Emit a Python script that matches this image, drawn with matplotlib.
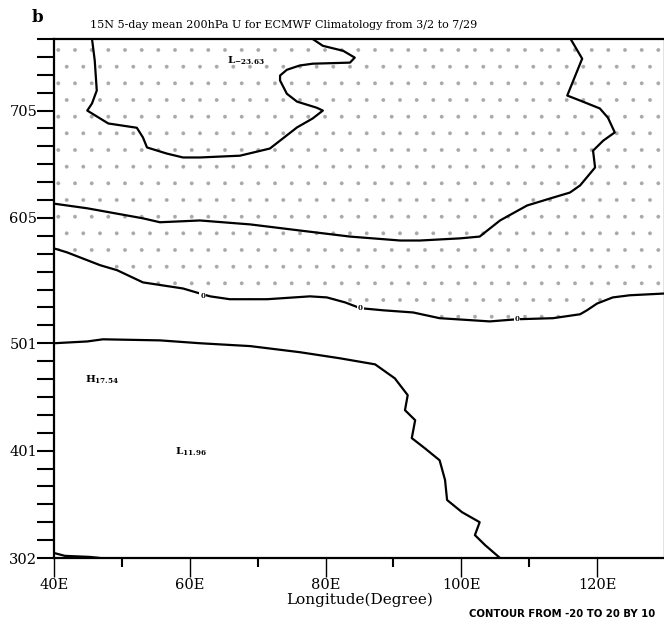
#!/usr/bin/env python3
"""
Hovmoller of 5-day mean 200hPa U at 15N (ECMWF climatology), contours read off the figure.
"""
import matplotlib
matplotlib.use("Agg")
import matplotlib.pyplot as plt

# time axis: days after 3/2, pentads
tick_days = [0, 30, 60, 95, 125]
tick_labels = ["302", "401", "501", "605", "705"]
lon_ticks = [40, 60, 80, 100, 120]
lon_labels = ["40E", "60E", "80E", "100E", "120E"]

# contour -20 (around the L-23.63 centre)
c_m20_lon = [45.6, 46.0, 46.3, 45.6, 44.9, 48.0, 52.2, 53.1, 53.7, 56.6, 59.0, 61.5,
             67.4, 71.8, 75.8, 78.1, 79.6, 78.7, 75.8, 74.3, 73.3, 73.3, 74.3, 76.2,
             78.1, 83.6, 84.3, 82.6, 79.6, 78.1]
c_m20_day = [145, 139.0, 130.6, 127.0, 125.0, 121.4, 120.2, 117.5, 114.7, 113.0, 111.9, 111.9,
             112.4, 114.4, 120.3, 122.8, 125.0, 125.8, 127.5, 129.7, 133.4, 134.8, 136.4, 137.6,
             138.1, 138.4, 139.8, 141.7, 143.1, 145]

# contour -10
c_m10_lon = [116.1, 117.8, 117.2, 115.6, 117.5, 120.4, 121.6, 122.6, 120.9, 119.4, 119.7,
             117.5, 116.0, 113.0, 111.1, 109.7, 107.6, 105.7, 102.7, 99.8, 93.9, 91.0,
             83.6, 76.2, 68.9, 61.5, 55.6, 53.1, 44.9, 40.0]
c_m10_day = [145, 139.5, 136.7, 129.2, 127.8, 125.6, 123.0, 118.9, 116.6, 113.8, 109.1,
             104.1, 102.1, 100.4, 99.3, 98.5, 96.3, 94.3, 89.8, 89.3, 88.7, 88.7,
             89.8, 91.5, 93.2, 94.3, 93.8, 94.9, 97.7, 99.0]

# contour 0
c_0_lon = [40.0, 41.9, 46.8, 49.3, 53.1, 59.0, 61.5, 63.0, 65.9, 71.4, 77.7, 80.2, 82.9,
           85.1, 88.5, 92.9, 96.8, 104.2, 108.2, 113.5, 117.5, 118.5, 120.0, 122.3, 124.8, 130.0]
c_0_day = [86.5, 85.4, 81.8, 80.4, 77.0, 75.3, 73.9, 73.1, 72.3, 72.3, 73.1, 72.8, 71.4,
           69.8, 69.2, 68.6, 67.0, 66.1, 66.7, 67.0, 68.1, 69.2, 71.1, 72.8, 73.4, 73.9]
c_0_label_lon = [61.9, 85.1, 108.2]
c_0_label_day = [73.1, 69.8, 66.7]

# contour 10
c_10_lon = [40.0, 44.9, 47.2, 55.6, 61.5, 68.9, 76.2, 82.1, 87.3, 90.2, 92.1, 91.7, 93.2,
            92.7, 94.6, 96.8, 97.6, 97.9, 100.1, 102.7, 102.0, 103.5, 105.7]
c_10_day = [60.0, 60.5, 61.1, 60.8, 60.0, 59.2, 57.5, 55.8, 54.1, 50.2, 45.5, 41.3, 38.5,
            33.5, 30.7, 27.3, 21.8, 16.2, 12.8, 10.0, 6.4, 3.6, 0]

# contour 20 (bottom-left corner)
c_20_lon = [40.0, 41.6, 45.3, 46.8]
c_20_day = [1.4, 0.6, 0.3, 0]

# extremes
ext_kind = ["L", "H", "L"]
ext_val = ["-23.63", "17.54", "11.96"]
ext_lon = [65.5, 44.6, 57.8]
ext_day = [139.0, 49.7, 29.6]

plt.rcParams["font.family"] = ["DejaVu Serif"]
plt.rcParams["mathtext.fontset"] = "dejavuserif"
plt.rcParams["hatch.color"] = "#a8a8a8"
plt.rcParams["hatch.linewidth"] = 0.3

fig = plt.figure(figsize=(6.64, 6.38), dpi=100)
ax = fig.add_axes([54 / 664, 80 / 638, 611 / 664, 519 / 638])

# stipple: negative values (above the zero line)
poly_lon = c_0_lon + [130, 40]
poly_day = c_0_day + [145, 145]
ax.fill(poly_lon, poly_day, facecolor="none", edgecolor="#a8a8a8", hatch=".", lw=0)

for xs, ys in [(c_m20_lon, c_m20_day), (c_m10_lon, c_m10_day), (c_0_lon, c_0_day),
               (c_10_lon, c_10_day), (c_20_lon, c_20_day)]:
    ax.plot(xs, ys, color="black", lw=1.6, solid_capstyle="round")

for x, y in zip(c_0_label_lon, c_0_label_day):
    ax.text(x, y, "0", fontsize=5, fontweight="bold", ha="center", va="center",
            bbox=dict(boxstyle="square,pad=0.15", fc="white", ec="none"))

for k, v, x, y in zip(ext_kind, ext_val, ext_lon, ext_day):
    ax.text(x, y, r"$\mathbf{%s}_{\mathbf{%s}}$" % (k, v), fontsize=7.5,
            ha="left", va="center")

ax.set_xlim(40, 130)
ax.set_ylim(0, 145)
ax.set_xticks(lon_ticks)
ax.set_xticklabels(lon_labels, fontsize=10.5)
ax.set_xticks([50, 70, 90, 110], minor=True)
ax.set_yticks(tick_days)
ax.set_yticklabels(tick_labels, fontsize=10.5)
ax.set_yticks(list(range(0, 146, 5)), minor=True)
ax.tick_params(axis="x", which="major", direction="out", length=13.5, width=1, pad=1)
ax.tick_params(axis="x", which="minor", direction="out", length=6.5, width=1.5)
ax.tick_params(axis="y", which="both", direction="out", length=12, width=1.5, pad=0)
for s in ax.spines.values():
    s.set_linewidth(1.6)

ax.set_xlabel("Longitude(Degree)", fontsize=11, labelpad=0)

fig.text(284 / 664, 1 - 25 / 638, "15N 5-day mean 200hPa U for ECMWF Climatology from 3/2 to 7/29",
         fontsize=8, ha="center", va="center")
fig.text(37 / 664, 1 - 17 / 638, "b", fontsize=12, fontweight="bold", ha="center", va="center")
fig.text(655 / 664, 1 - 614 / 638, "CONTOUR FROM -20 TO 20 BY 10", fontsize=7.3,
         fontweight="bold", ha="right", va="center", family="DejaVu Sans")

fig.savefig("out.png", dpi=100)
